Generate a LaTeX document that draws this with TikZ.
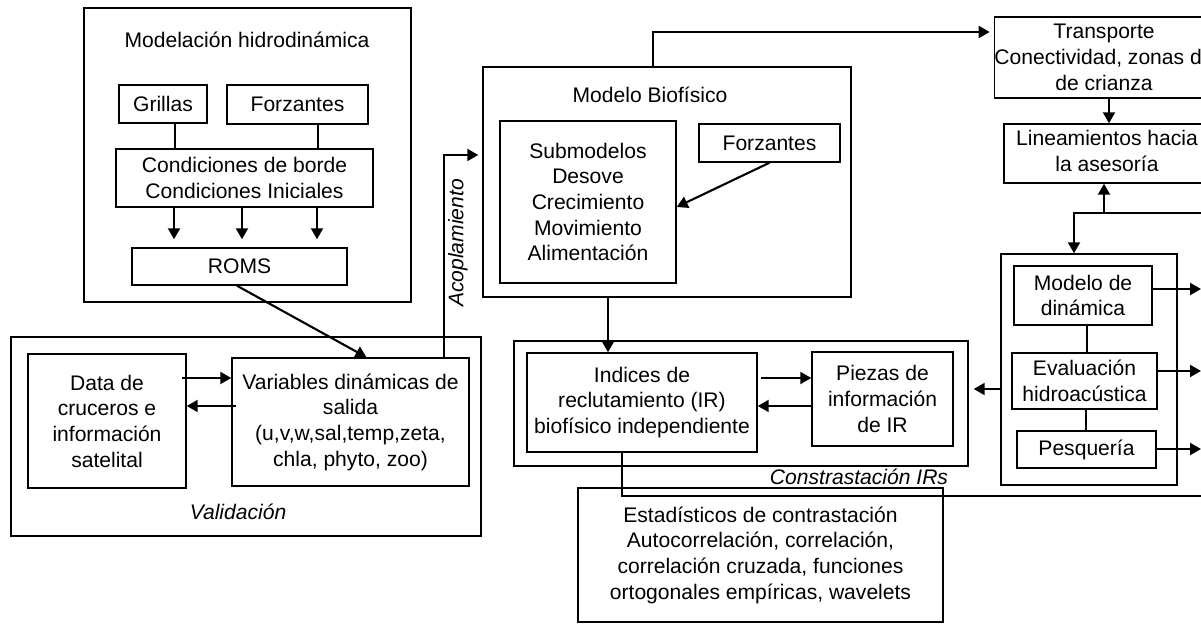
\documentclass[tikz,border=0pt]{standalone}
\usepackage{fontspec}
\setmainfont{Liberation Sans}
\usetikzlibrary{arrows.meta, positioning, calc}
\tikzset{
    caja/.style={rectangle, draw, line width=0.85pt, align=center, inner sep=0pt},
    flecha/.style={line width=1.2pt, -{Triangle[length=0.22cm, width=0.24cm]}},
    enlace/.style={line width=1.2pt},
    fino/.style={line width=0.75pt}
}

\begin{document}
\begin{tikzpicture}[x=0.02cm, y=-0.02cm, font=\fontsize{12}{14.6}\selectfont]
    \useasboundingbox (0,0) rectangle (1201,624);
    \begin{scope}
    \clip (0,0) rectangle (1201,624);

    % Modelacion hidrodinamica
    \node[caja, minimum width=6.54cm, minimum height=5.88cm] (hidro) at (247.5,155) {};
    \node (hidrotit) at (247,40) {Modelación hidrodinámica};
    \node[caja, minimum width=1.76cm, minimum height=0.76cm] (grillas) at (163,104) {Grillas};
    \node[caja, minimum width=2.82cm, minimum height=0.78cm] (forzA) at (297.5,104.5) {Forzantes};
    \node[caja, minimum width=5.14cm, minimum height=1.16cm] (cond) at (244.5,178) {Condiciones de borde\\Condiciones Iniciales};
    \node[caja, minimum width=4.30cm, minimum height=0.74cm] (roms) at (239.5,266.5) {ROMS};

    % Validacion
    \node[caja, minimum width=9.40cm, minimum height=3.98cm] (valid) at (246,436.5) {};
    \node[font=\fontsize{12}{14.6}\selectfont\itshape] (validtit) at (238,512) {Validación};
    \node[caja, minimum width=3.16cm, minimum height=2.68cm] (data) at (107,421) {Data de\\cruceros e\\información\\satelital};
    \node[caja, minimum width=4.74cm, minimum height=2.56cm] (vars) at (350.5,422) {Variables dinámicas de\\salida\\(u,v,w,sal,temp,zeta,\\chla, phyto, zoo)};

    % Modelo biofisico
    \node[caja, minimum width=7.36cm, minimum height=4.60cm] (bio) at (667,182) {};
    \node (biotit) at (650,95) {Modelo Biofísico};
    \node[caja, minimum width=3.52cm, minimum height=3.24cm] (submod) at (588,202) {Submodelos\\Desove\\Crecimiento\\Movimiento\\Alimentación};
    \node[caja, minimum width=2.82cm, minimum height=0.76cm] (forzB) at (769.5,143) {Forzantes};

    % Constrastacion
    \node[caja, minimum width=9.08cm, minimum height=2.50cm] (contr) at (741,403.5) {};
    \node[font=\fontsize{12}{14.6}\selectfont\itshape] (contrtit) at (859,477) {Constrastación IRs};
    \node[caja, minimum width=4.60cm, minimum height=1.98cm] (indices) at (642,402.5) {Indices de\\reclutamiento (IR)\\biofísico independiente};
    \node[caja, minimum width=2.82cm, minimum height=1.88cm] (piezas) at (882.5,399) {Piezas de\\información\\de IR};
    \node[caja, minimum width=7.30cm, minimum height=2.68cm] (estad) at (760.5,555) {Estadísticos de contrastación\\Autocorrelación, correlación,\\correlación cruzada, funciones\\ortogonales empíricas, wavelets};

    % Columna derecha
    \node[caja, minimum width=4.12cm, minimum height=1.62cm] (transp) at (1104,57.5) {Transporte\\Conectividad, zonas de\\de crianza};
    \node[caja, minimum width=4.12cm, minimum height=1.18cm, text depth=0.1cm] (linea) at (1107,153.5) {Lineamientos hacia\\la asesoría};
    \node[caja, minimum width=3.52cm, minimum height=4.62cm] (grupo) at (1089,369.5) {};
    \node[caja, minimum width=2.76cm, minimum height=1.18cm] (moddin) at (1083,295.5) {Modelo de\\dinámica};
    \node[caja, minimum width=2.90cm, minimum height=1.12cm] (evalh) at (1084.5,381) {Evaluación\\hidroacústica};
    \node[caja, minimum width=2.78cm, minimum height=0.74cm] (pesq) at (1086.5,449.5) {Pesquería};

    \coordinate (bordeA) at (1210,213);
    \coordinate (bordeB) at (1210,496);
    \coordinate (nudo) at (1104,213);

    % Conectores
    \draw[fino] (175,0 |- grillas.south) -- (175,0 |- cond.north);
    \draw[fino] (318,0 |- forzA.south) -- (318,0 |- cond.north);
    \foreach \x in {174,242,317}
        \draw[flecha, shorten >=0.16cm] (\x,0 |- cond.south) -- (\x,0 |- roms.north);
    \draw[flecha] (237,0 |- roms.south) -- ($(vars.north)+(16,0)$);
    \draw[flecha] (182,378) -- (vars.west |- 0,378);
    \draw[flecha] (236,406) -- (data.east |- 0,406);
    \draw[flecha, shorten >=0.08cm] (444,0 |- vars.north) |- (bio.west |- 0,155);
    \node[rotate=90, font=\fontsize{12}{14.6}\selectfont\itshape] (acopl) at (458,243) {Acoplamiento};
    \draw[flecha, shorten >=0.08cm] (653,0 |- bio.north) |- (transp.west |- 0,32);
    \draw[flecha] (forzB.south) -- ($(submod.east)+(0,5)$);
    \draw[flecha] (608,0 |- bio.south) -- (608,0 |- indices.north);
    \draw[flecha] (761,378) -- (piezas.west |- 0,378);
    \draw[flecha] (813,406) -- (indices.east |- 0,406);
    \draw[flecha, shorten >=0.1cm] (grupo.west |- 0,389) -- (contr.east |- 0,389);
    \draw[enlace] (622,0 |- indices.south) |- (bordeB);
    \draw[flecha] (1109,0 |- transp.south) -- (1109,0 |- linea.north);
    \draw[flecha] (nudo) -- (1104,0 |- linea.south);
    \draw[flecha] (bordeA) -| (1074,0 |- grupo.north);
    \draw[fino] (1087,0 |- moddin.south) -- (1087,0 |- evalh.north);
    \draw[fino] (1086,0 |- evalh.south) -- (1086,0 |- pesq.north);
    \foreach \n/\y in {moddin/289, evalh/371, pesq/449}
        \draw[flecha] (\n.east |- 0,\y) -- (1201,\y);
    \end{scope}
\end{tikzpicture}
\end{document}
